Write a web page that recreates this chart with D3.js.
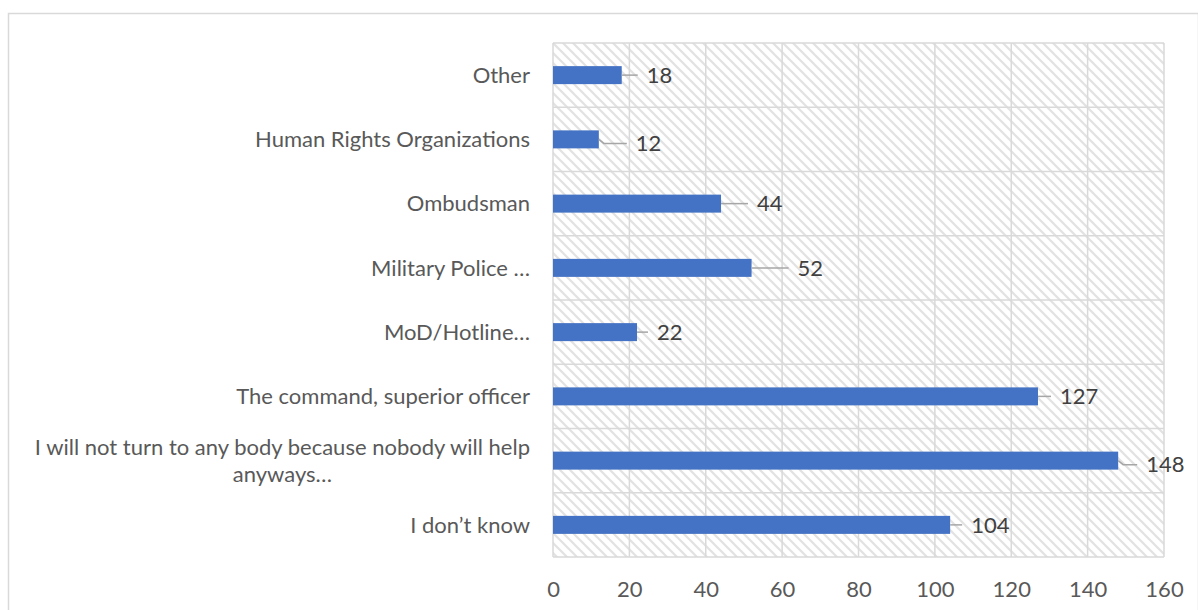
<!DOCTYPE html>
<html>
<head>
<meta charset="utf-8">
<script src="https://cdn.jsdelivr.net/npm/d3@7"></script>
<style>
  html, body { margin: 0; padding: 0; background: #fff; }
  svg { display: block; }
  text { font-family: Lato, "Open Sans", sans-serif; }
</style>
</head>
<body>
<svg id="chart" width="1198" height="610"></svg>
<script>
// Who respondents would turn to (count of answers)
const categories = [
  "Other",
  "Human Rights Organizations",
  "Ombudsman",
  "Military Police …",
  "MoD/Hotline…",
  "The command, superior officer",
  "I will not turn to any body because nobody will help anyways…",
  "I don’t know"
];
const counts = [18, 12, 44, 52, 22, 127, 148, 104];
const xTicks = [0, 20, 40, 60, 80, 100, 120, 140, 160];

// layout
const W = 1198, H = 610;
const plot = { left: 553, top: 43, right: 1164, bottom: 557 };
const fontSize = 22;
const grid = "#d9d9d9";

// hand-placed label nudges (extra gap after bar end, vertical shift)
const labelGap = [25, 37, 36, 46, 20, 22, 28, 21];
const labelDy = [0, 4, 0, 0, 0, 0, 4, 0];

const svg = d3.select("#chart");

const defs = svg.append("defs");
const P = 10;
const pat = defs.append("pattern")
  .attr("id", "hatch")
  .attr("patternUnits", "userSpaceOnUse")
  .attr("width", P).attr("height", P);
pat.append("rect").attr("width", P).attr("height", P).attr("fill", "#fff");
pat.append("path")
  .attr("d", `M-3,-3 L${P + 3},${P + 3} M-3,${P - 3} L3,${P + 3} M${P - 3},-3 L${P + 3},3`)
  .attr("stroke", "#e2e2e2").attr("stroke-width", 2.2);

// chart frame
svg.append("rect")
  .attr("x", 8.5).attr("y", 13.5)
  .attr("width", W - 8).attr("height", H)
  .attr("fill", "#fff").attr("stroke", grid).attr("stroke-width", 1.5);

const x = d3.scaleLinear()
  .domain([xTicks[0], xTicks[xTicks.length - 1]])
  .range([plot.left, plot.right]);

const y = d3.scaleBand()
  .domain(categories)
  .range([plot.top, plot.bottom])
  .paddingInner(0.72)
  .paddingOuter(0.36);

// plot area fill
svg.append("rect")
  .attr("x", plot.left).attr("y", plot.top)
  .attr("width", plot.right - plot.left).attr("height", plot.bottom - plot.top)
  .attr("fill", "url(#hatch)");

// vertical gridlines
svg.append("g")
  .selectAll("line").data(xTicks).join("line")
  .attr("x1", d => x(d)).attr("x2", d => x(d))
  .attr("y1", plot.top).attr("y2", plot.bottom)
  .attr("stroke", grid).attr("stroke-width", 1.5);

// horizontal category separators
const step = y.step();
const bounds = d3.range(categories.length + 1).map(i => plot.top + i * step);
svg.append("g")
  .selectAll("line").data(bounds).join("line")
  .attr("x1", plot.left).attr("x2", plot.right)
  .attr("y1", d => d).attr("y2", d => d)
  .attr("stroke", grid).attr("stroke-width", 1.5);

// x axis tick labels
const xAxis = d3.axisBottom(x).tickValues(xTicks).tickSize(0).tickPadding(0);
const gx = svg.append("g")
  .attr("transform", `translate(0,${plot.bottom + 32})`)
  .call(xAxis);
gx.select(".domain").remove();
gx.selectAll("text")
  .attr("font-family", "Lato, 'Open Sans', sans-serif")
  .attr("font-size", fontSize)
  .attr("fill", "#595959")
  .attr("dy", "0.35em");

// bars
svg.append("g")
  .selectAll("rect").data(counts).join("rect")
  .attr("x", x(0))
  .attr("y", (d, i) => y(categories[i]))
  .attr("width", d => x(d) - x(0))
  .attr("height", y.bandwidth())
  .attr("fill", "#4472C4");

// leader lines and value labels
const lbl = svg.append("g");
counts.forEach((v, i) => {
  const cy = y(categories[i]) + y.bandwidth() / 2;
  const x0 = x(v);
  const lx = x0 + labelGap[i];
  const ly = cy + labelDy[i];
  lbl.append("path")
    .attr("d", `M${x0},${cy} L${x0 + 5},${ly} L${lx - 9},${ly}`)
    .attr("fill", "none")
    .attr("stroke", "#a6a6a6").attr("stroke-width", 1.5);
  lbl.append("text")
    .attr("x", lx).attr("y", ly)
    .attr("dy", "0.35em")
    .attr("font-size", fontSize)
    .attr("fill", "#404040")
    .text(v);
});

// category labels, word-wrapped and centred as a block right-aligned to the axis
const maxLabelW = 515;
const labelRight = 530;
const lineH = 27;
const cat = svg.append("g");
categories.forEach(c => {
  const cy = y(c) + y.bandwidth() / 2;
  const probe = cat.append("text").attr("font-size", fontSize);
  const words = c.split(" ");
  const lines = [];
  let cur = "";
  words.forEach(w => {
    const test = cur ? cur + " " + w : w;
    probe.text(test);
    if (probe.node().getComputedTextLength() > maxLabelW && cur) {
      lines.push(cur);
      cur = w;
    } else {
      cur = test;
    }
  });
  lines.push(cur);
  const widths = lines.map(l => { probe.text(l); return probe.node().getComputedTextLength(); });
  probe.remove();
  const blockW = d3.max(widths);
  const centre = labelRight - blockW / 2;
  lines.forEach((l, k) => {
    cat.append("text")
      .attr("x", centre)
      .attr("y", cy + (k - (lines.length - 1) / 2) * lineH)
      .attr("dy", "0.35em")
      .attr("text-anchor", "middle")
      .attr("font-size", fontSize)
      .attr("fill", "#595959")
      .text(l);
  });
});
</script>
</body>
</html>
